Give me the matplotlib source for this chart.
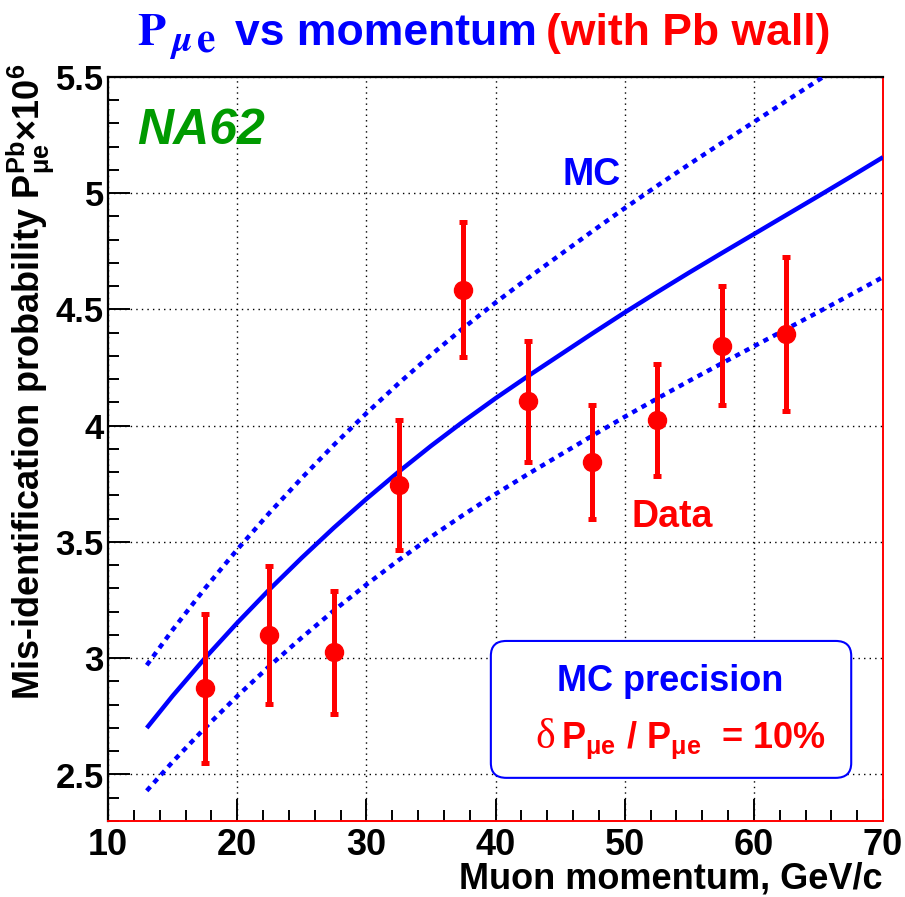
import matplotlib.pyplot as plt
from matplotlib.patches import FancyBboxPatch
from matplotlib.ticker import MultipleLocator

plt.rcParams['font.family'] = ['Liberation Sans', 'DejaVu Sans']
plt.rcParams['font.weight'] = 'bold'
plt.rcParams['mathtext.fontset'] = 'custom'
plt.rcParams['mathtext.rm'] = 'Liberation Sans:bold'
plt.rcParams['mathtext.bf'] = 'Liberation Sans:bold'
plt.rcParams['mathtext.it'] = 'Liberation Sans:bold'

# measured mis-ID probability (x1e6) per momentum bin
momentum = [17.5, 22.5, 27.5, 32.5, 37.5, 42.5, 47.5, 52.5, 57.5, 62.5]
p_data = [2.87, 3.10, 3.025, 3.745, 4.585, 4.105, 3.845, 4.025, 4.345, 4.395]
p_err = [0.32, 0.295, 0.265, 0.28, 0.29, 0.26, 0.245, 0.24, 0.255, 0.33]

# MC prediction
mc_p = [13, 15, 17.5, 20, 22.5, 25, 27.5, 30, 32.5, 35, 37.5, 40, 42.5, 45,
        47.5, 50, 52.5, 55, 57.5, 60, 62.5, 65, 67.5, 70]
mc_val = [2.700, 2.838, 3.000, 3.152, 3.296, 3.432, 3.562, 3.685, 3.802,
          3.913, 4.018, 4.118, 4.213, 4.305, 4.397, 4.487, 4.574, 4.659,
          4.742, 4.824, 4.906, 4.988, 5.071, 5.155]
mc_prec = 0.10  # relative MC precision

blue = '#0000ff'
red = '#ff0000'
green = '#009a00'

fig = plt.figure(figsize=(9.05, 8.97), dpi=100)
W, H = 905, 897
ax = fig.add_axes([108 / W, (H - 821) / H, 775 / W, 744 / H])

# MC curve and +-10% band
mc_hi = [v * (1 + mc_prec) for v in mc_val]
mc_lo = [v * (1 - mc_prec) for v in mc_val]
ax.plot(mc_p, mc_val, color=blue, lw=3.2, solid_capstyle='butt',
        solid_joinstyle='round', zorder=3)
ax.plot(mc_p, mc_hi, color=blue, lw=3.2, ls=(0, (1.2, 1.2)), zorder=3)
ax.plot(mc_p, mc_lo, color=blue, lw=3.2, ls=(0, (1.2, 1.2)), zorder=3)

# data points
ax.errorbar(momentum, p_data, yerr=p_err, fmt='o', color=red, ms=13,
            elinewidth=3.6, capsize=3, capthick=3.6, zorder=5)

ax.set_xlim(10, 70)
ax.set_ylim(2.3, 5.5)
ax.xaxis.set_major_locator(MultipleLocator(10))
ax.xaxis.set_minor_locator(MultipleLocator(2))
ax.yaxis.set_major_locator(MultipleLocator(0.5))
ax.yaxis.set_minor_locator(MultipleLocator(0.1))
ax.grid(True, which='major', color='black', ls=(0, (1, 3)), lw=1, zorder=0)
ax.tick_params(which='both', direction='in', width=1.4, top=False, right=False)
ax.tick_params(which='major', length=16)
ax.tick_params(which='minor', length=8)
ax.tick_params(axis='y', pad=3, labelsize=25)
ax.tick_params(axis='x', pad=5, labelsize=26)
ax.set_yticks([2.5, 3, 3.5, 4, 4.5, 5, 5.5])
ax.set_yticklabels(['2.5', '3', '3.5', '4', '4.5', '5', '5.5'])

for s in ['left', 'top']:
    ax.spines[s].set_linewidth(1.6)
    ax.spines[s].set_color('black')
for s in ['right', 'bottom']:
    ax.spines[s].set_linewidth(1.4)
    ax.spines[s].set_color(red)

# labels on the plot
ax.text(0.037, 0.91, 'NA62', transform=ax.transAxes, color=green,
        fontsize=36, fontstyle='italic', fontweight='bold', va='baseline')
ax.text(0.586, 0.855, 'MC', transform=ax.transAxes, color=blue,
        fontsize=27, va='baseline')
ax.text(0.676, 0.395, 'Data', transform=ax.transAxes, color=red,
        fontsize=27, va='baseline')

# MC precision box
box = FancyBboxPatch((0.494, 0.058), 0.465, 0.184,
                     boxstyle='round,pad=0,rounding_size=0.02',
                     transform=ax.transAxes, facecolor='white',
                     edgecolor=blue, lw=1.5, zorder=6)
ax.add_patch(box)
ax.text(0.726, 0.175, 'MC precision', transform=ax.transAxes, color=blue,
        fontsize=26, ha='center', va='baseline', zorder=7)
ax.text(0.552, 0.098, 'δ', transform=ax.transAxes, color=red,
        fontsize=30, fontfamily='Liberation Serif', fontweight='normal',
        va='baseline', zorder=7)
ax.text(0.585, 0.098, r'P$_{\mathbf{μe}}$ / P$_{\mathbf{μe}}$  = 10%',
        transform=ax.transAxes, color=red, fontsize=26, va='baseline',
        zorder=7)

# title: serif P_mu e, then the bold parts
ty = 1 - 45 / H
fig.text(137 / W, ty, r'$\mathrm{P}$', color=blue, fontsize=33,
         math_fontfamily='stix', va='baseline')
fig.text(169 / W, 1 - 51 / H, r'$\mu$', color=blue, fontsize=27,
         math_fontfamily='stix', va='baseline')
fig.text(196 / W, 1 - 51 / H, r'$\mathrm{e}$', color=blue, fontsize=30,
         math_fontfamily='stix', va='baseline')
fig.text(235 / W, ty, 'vs momentum', color=blue, fontsize=32, va='baseline')
fig.text(546 / W, ty, '(with Pb wall)', color=red, fontsize=32, va='baseline')

# axis titles
fig.text(882 / W, 1 - 888 / H, 'Muon momentum, GeV/c', fontsize=26,
         ha='right', va='baseline')
fig.text(39 / W, 1 - 382 / H,
         r'Mis-identification probability P$^{\mathbf{Pb}}_{\mathbf{μe}}$$\mathbf{\times 10^{6}}$',
         fontsize=26, rotation=90, rotation_mode='anchor',
         ha='center', va='baseline')

fig.savefig('out.png', dpi=100)
